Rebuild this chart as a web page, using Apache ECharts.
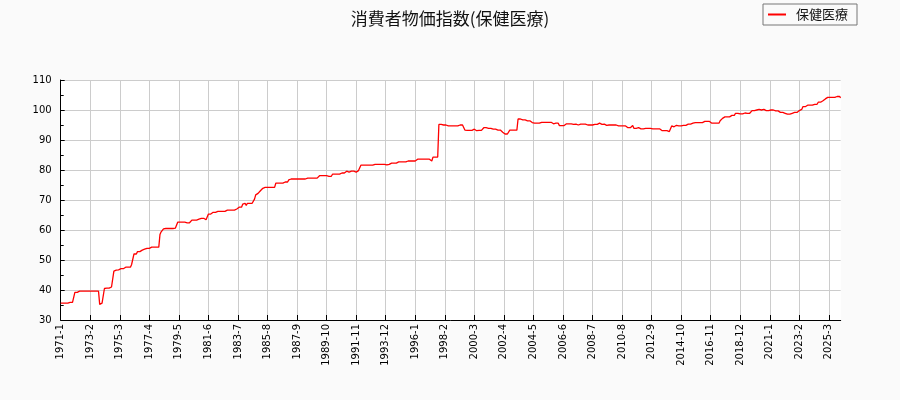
<!DOCTYPE html>
<html>
<head>
<meta charset="utf-8">
<script src="https://cdn.jsdelivr.net/npm/echarts@6/dist/echarts.min.js"></script>
<style>
html,body{margin:0;padding:0;background:#fafafa;}
#chart{width:900px;height:400px;}
</style>
</head>
<body>
<div id="chart"></div>
<script>
// Monthly series, starting 1971-1
const startYear = 1971;
const seriesName = '保健医療';
const titleText = '消費者物価指数(保健医療)';
const values = [
/*1971*/ 35.6,35.6,35.6,35.6,35.6,35.6,35.6,35.6,35.9,35.9,35.9,35.9,
/*1972*/ 39.2,39.2,39.2,39.2,39.6,39.6,39.6,39.6,39.6,39.6,39.6,39.6,
/*1973*/ 39.6,39.6,39.6,39.6,39.6,39.6,39.6,39.6,39.6,35.2,35.2,35.6,
/*1974*/ 35.6,40.5,40.6,40.6,40.6,40.6,41.0,41.0,41.5,46.3,46.3,46.6,
/*1975*/ 46.7,46.7,46.7,47.1,47.1,47.1,47.6,47.6,47.6,47.6,47.6,47.6,
/*1976*/ 48.5,48.5,52.0,52.0,52.0,52.8,52.8,52.8,53.3,53.3,53.3,53.6,
/*1977*/ 53.6,53.9,53.9,53.9,53.9,54.3,54.3,54.3,54.3,54.3,54.3,54.3,
/*1978*/ 58.5,59.4,59.8,60.4,60.5,60.5,60.5,60.5,60.5,60.5,60.5,60.5,
/*1979*/ 60.6,60.6,60.6,62.6,62.6,62.6,62.6,62.6,62.6,62.6,62.4,62.4,
/*1980*/ 62.4,62.4,63.0,63.3,63.3,63.3,63.3,63.3,63.6,63.6,63.6,63.9,
/*1981*/ 63.9,63.9,63.4,63.4,63.4,65.3,65.3,65.3,65.9,65.9,65.9,65.9,
/*1982*/ 66.2,66.2,66.2,66.2,66.2,66.2,66.2,66.2,66.6,66.6,66.6,66.6,
/*1983*/ 66.6,66.6,66.6,66.6,67.0,67.0,67.6,67.6,67.6,67.6,68.6,68.9,
/*1984*/ 68.9,68.2,68.9,68.9,68.9,68.9,68.9,68.9,70.3,71.7,71.7,72.2,
/*1985*/ 72.2,73.1,73.1,73.9,73.9,74.2,74.2,74.2,74.2,74.2,74.2,74.2,
/*1986*/ 74.2,74.2,75.6,75.6,75.6,75.6,75.6,75.6,75.6,76.0,76.0,76.0,
/*1987*/ 76.0,76.7,77.0,77.0,77.0,77.0,77.0,77.0,77.0,77.0,77.0,77.0,
/*1988*/ 77.0,77.0,77.0,77.0,77.0,77.3,77.3,77.3,77.3,77.3,77.3,77.3,
/*1989*/ 77.3,77.3,77.3,78.1,78.1,78.1,78.1,78.1,78.1,78.1,78.1,77.9,
/*1990*/ 77.9,77.9,78.6,78.6,78.6,78.6,78.6,78.6,78.6,79.0,79.0,79.0,
/*1991*/ 79.0,79.0,79.6,79.6,79.3,79.3,79.6,79.6,79.6,79.3,79.3,79.8,
/*1992*/ 79.8,79.8,81.6,81.6,81.6,81.6,81.6,81.6,81.6,81.6,81.6,81.6,
/*1993*/ 81.6,81.6,81.9,81.9,81.9,81.9,81.9,81.9,81.9,81.9,81.9,81.9,
/*1994*/ 81.7,81.7,81.9,82.3,82.3,82.3,82.3,82.3,82.3,82.3,82.7,82.7,
/*1995*/ 82.7,82.7,82.7,82.7,82.7,83.0,83.0,83.0,83.0,83.0,83.0,83.0,
/*1996*/ 83.0,83.0,83.6,83.6,83.6,83.6,83.6,83.6,83.6,83.6,83.6,83.6,
/*1997*/ 83.6,83.0,83.0,84.3,84.3,84.3,84.3,84.3,95.2,95.2,95.2,95.2,
/*1998*/ 95.0,95.0,95.0,95.0,94.7,94.7,94.7,94.7,94.7,94.7,94.7,94.7,
/*1999*/ 94.7,94.7,95.0,95.0,95.0,95.0,93.3,93.2,93.2,93.2,93.2,93.2,
/*2000*/ 93.2,93.6,93.6,93.1,93.1,93.2,93.2,93.2,93.2,93.2,94.1,94.1,
/*2001*/ 94.1,93.9,93.9,93.9,93.9,93.6,93.6,93.6,93.6,93.6,93.3,93.3,
/*2002*/ 93.3,93.3,92.6,92.6,92.0,92.0,92.0,92.0,93.3,93.3,93.3,93.3,
/*2003*/ 93.3,93.3,93.3,97.0,97.0,97.0,97.0,96.7,96.9,96.7,96.7,96.4,
/*2004*/ 96.4,96.4,95.8,95.8,95.6,95.6,95.6,95.6,95.6,95.6,95.6,95.9,
/*2005*/ 95.9,95.9,95.9,95.9,95.9,95.9,95.9,95.9,95.9,95.4,95.4,95.6,
/*2006*/ 95.6,95.6,94.8,94.8,94.8,94.8,94.8,94.4,95.4,95.4,95.4,95.4,
/*2007*/ 95.4,95.4,95.2,95.3,95.3,95.3,95.0,95.3,95.3,95.3,95.3,95.3,
/*2008*/ 95.3,95.0,95.0,95.0,95.0,95.0,95.0,95.0,95.2,95.2,95.2,95.6,
/*2009*/ 95.6,95.2,95.2,95.2,95.3,94.9,94.9,94.9,95.0,95.0,95.0,95.0,
/*2010*/ 95.0,95.0,95.0,94.7,94.7,94.7,94.7,94.7,94.7,94.7,94.7,94.7,
/*2011*/ 94.1,94.1,94.1,94.1,94.8,93.9,93.9,93.9,94.1,94.1,94.1,93.7,
/*2012*/ 93.7,93.7,93.7,93.9,93.9,93.9,93.9,93.9,93.7,93.7,93.7,93.7,
/*2013*/ 93.7,93.7,93.7,93.7,93.7,93.1,93.1,93.1,93.1,93.1,93.1,92.8,
/*2014*/ 92.8,94.7,94.4,94.4,94.9,94.9,94.9,94.7,94.7,94.7,94.7,94.9,
/*2015*/ 94.9,94.9,94.9,95.3,95.3,95.3,95.6,95.6,95.6,95.8,95.8,95.8,
/*2016*/ 95.8,95.8,95.8,95.8,96.2,96.2,96.2,96.2,96.2,96.2,95.6,95.6,
/*2017*/ 95.6,95.6,95.6,95.6,95.9,95.6,96.4,96.8,97.2,97.7,97.7,97.7,
/*2018*/ 97.7,97.7,97.7,98.2,98.2,98.2,98.2,98.9,98.9,98.9,98.7,98.7,
/*2019*/ 98.7,98.7,99.0,99.0,98.9,98.9,98.9,98.9,99.2,99.8,99.8,99.8,
/*2020*/ 100.0,100.0,100.0,100.2,100.0,100.0,100.0,100.2,100.2,99.8,99.8,99.8,
/*2021*/ 99.8,100.0,100.0,100.0,99.7,99.7,99.7,99.7,99.2,99.2,99.2,99.2,
/*2022*/ 98.9,98.9,98.9,98.6,98.6,98.6,98.9,98.9,98.9,99.2,99.2,99.2,
/*2023*/ 99.8,99.8,99.8,100.2,101.1,101.1,101.1,101.6,101.6,101.6,101.6,101.6,
/*2024*/ 101.6,101.6,101.9,101.9,101.9,102.6,102.6,102.6,103.1,103.1,103.7,103.7,
/*2025*/ 103.7,104.2,104.2,104.2,104.2,104.2,104.2,104.2,104.2,104.5,104.5,104.5,
/*2026*/ 104.1
];
// month categories "YYYY-M"
const categories = [];
for (let k = 0; k < values.length; k++) {
  categories.push((startYear + Math.floor(k / 12)) + '-' + (k % 12 + 1));
}
const yMin = 30, yMax = 110, yStep = 10;
const labelEvery = 25;

const chart = echarts.init(document.getElementById('chart'), null, {renderer: 'canvas'});
chart.setOption({
  animation: false,
  backgroundColor: '#fafafa',
  title: {
    text: titleText,
    left: 'center',
    top: 10,
    padding: 0,
    textStyle: {fontFamily: 'Noto Sans CJK JP', fontSize: 17, fontWeight: 'normal', color: '#111'}
  },
  legend: {
    left: 763, top: 4,
    padding: [4, 9, 4, 5],
    borderColor: '#777', borderWidth: 1, borderRadius: 0,
    backgroundColor: '#fafafa',
    itemWidth: 18, itemHeight: 2, icon: 'rect',
    textStyle: {fontFamily: 'Noto Sans CJK JP', fontSize: 13, color: '#111', padding: [0, 0, 0, 5]},
    data: [seriesName]
  },
  grid: {left: 60.7, right: 59.3, top: 80, bottom: 80, show: true, backgroundColor: '#ffffff', borderWidth: 0},
  xAxis: {
    type: 'category',
    data: categories,
    boundaryGap: false,
    axisLine: {lineStyle: {color: '#000', width: 1}},
    axisTick: {show: true, inside: true, length: 5, interval: labelEvery - 1, lineStyle: {color: '#000'}},
    axisLabel: {interval: labelEvery - 1, rotate: 90, margin: 4, fontFamily: 'DejaVu Sans', fontSize: 10, color: '#000'},
    splitLine: {show: true, interval: labelEvery - 1, lineStyle: {color: '#cccccc', width: 1}}
  },
  yAxis: {
    type: 'value',
    min: yMin, max: yMax, interval: yStep,
    axisLine: {show: true, lineStyle: {color: '#000', width: 1}},
    axisTick: {show: true, inside: true, length: 4, lineStyle: {color: '#000'}},
    minorTick: {show: true, splitNumber: 2, length: 3, lineStyle: {color: '#000'}},
    axisLabel: {margin: 9, fontFamily: 'DejaVu Sans', fontSize: 10, color: '#000'},
    splitLine: {show: true, lineStyle: {color: '#cccccc', width: 1}}
  },
  series: [{
    name: seriesName,
    type: 'line',
    data: values,
    showSymbol: false,
    symbol: 'none',
    color: '#ff0000',
    lineStyle: {color: '#ff0000', width: 1.3},
    z: 3
  }]
});
</script>
</body>
</html>
